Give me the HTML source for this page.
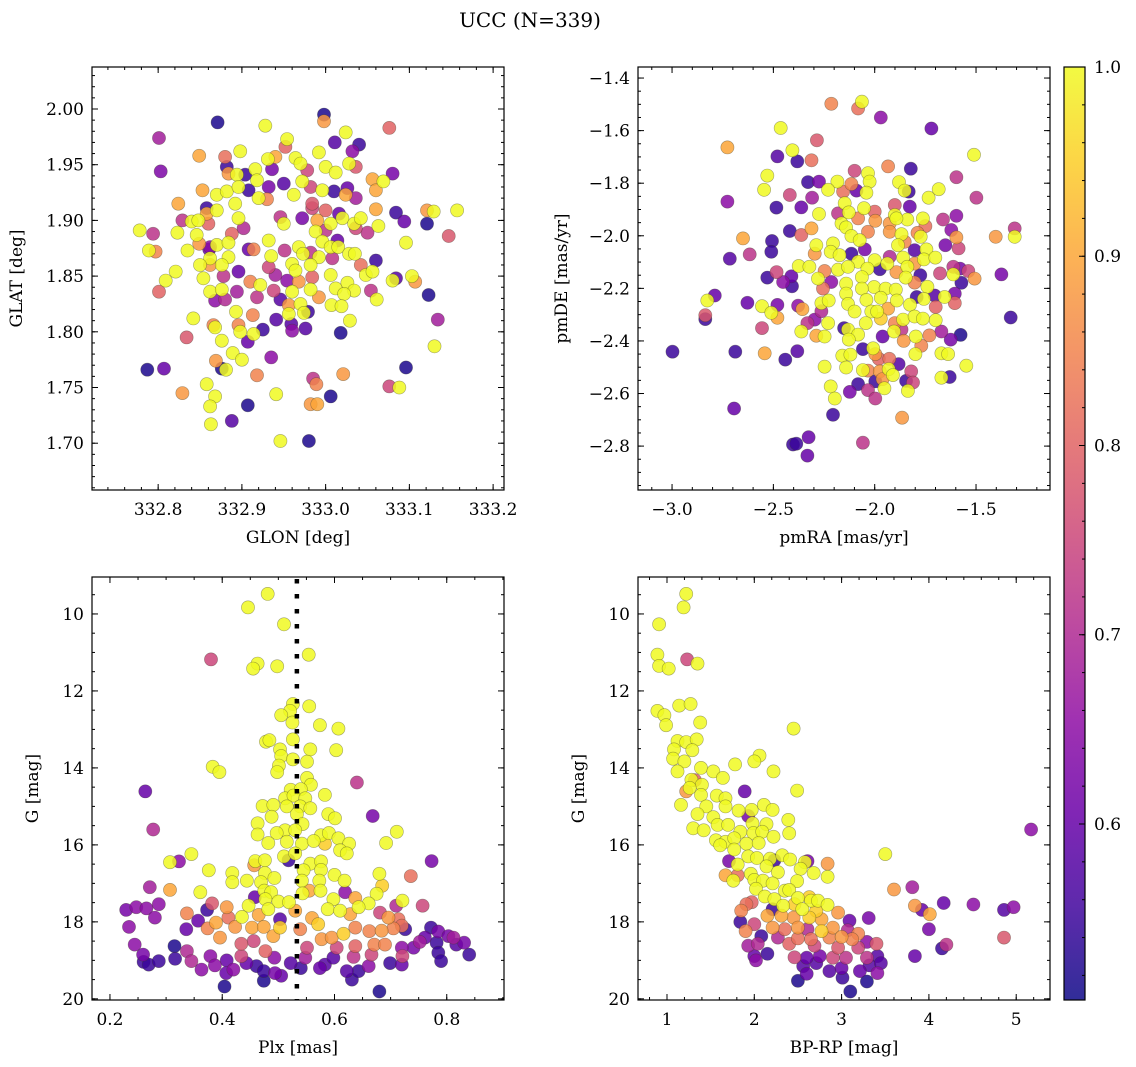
<!DOCTYPE html>
<html>
<head>
<meta charset="utf-8">
<style>
html,body{margin:0;padding:0;background:#fff;}
svg{display:block;font-family:"DejaVu Serif","Liberation Serif",serif;}
</style>
</head>
<body>
<svg id="chart" width="1136" height="1067" viewBox="0 0 1136 1067" xmlns="http://www.w3.org/2000/svg">
<text x="530" y="27" text-anchor="middle" font-size="20">UCC (N=339)</text>
</svg>
<script>
// ---------- Panel 1: GLON vs GLAT ----------
const glon = [332.871,332.801,332.803,332.928,332.998,332.998,333.076,333.024,333.011,333.040,
332.954,332.952,333.032,332.898,332.849,332.880,332.931,332.940,332.992,332.964,
333.028,332.882,332.916,332.936,332.970,333.000,333.012,332.884,332.894,332.904,
332.918,332.978,333.036,333.056,333.069,333.080,332.853,332.870,332.882,332.896,
332.908,332.932,332.950,332.962,332.972,332.982,332.996,333.010,333.024,333.026,
333.060,332.920,332.930,332.824,332.892,332.984,333.036,332.858,332.870,332.984,
333.000,333.016,333.060,333.084,333.121,333.129,333.157,332.858,332.896,332.946,
332.950,332.972,332.990,333.006,333.020,333.034,333.042,333.094,333.121,332.829,
332.840,332.848,332.860,332.778,332.794,332.823,332.846,332.888,332.902,332.988,
333.000,333.036,333.050,333.063,333.147,332.849,332.862,332.870,332.884,332.932,
332.996,333.006,333.014,333.015,333.096,332.789,332.797,332.835,332.861,332.908,
332.914,332.935,332.951,332.968,332.973,332.982,332.992,333.008,333.028,333.035,
333.060,332.862,332.884,332.821,332.809,332.850,332.862,332.876,332.896,332.878,
332.932,332.940,332.960,332.964,332.982,332.954,332.968,332.984,333.006,333.042,
333.048,333.056,333.084,333.080,333.103,333.107,332.801,332.854,332.862,332.876,
332.894,332.910,332.918,332.922,332.938,332.960,332.982,332.992,333.012,333.026,
333.034,333.022,333.054,333.061,333.123,332.868,332.880,332.946,332.956,332.970,
333.007,333.019,332.893,332.913,332.842,332.941,332.956,332.974,332.979,333.134,
332.866,332.868,332.896,332.898,332.914,332.925,332.959,332.976,332.960,333.029,
333.018,332.834,332.876,332.907,333.130,332.889,332.900,332.935,332.869,332.876,
332.881,332.787,332.807,333.096,332.918,333.021,332.985,332.989,333.076,333.088,
332.858,332.829,332.868,332.941,333.006,332.982,332.990,332.862,332.907,332.888,
332.863,332.946,332.980];
const glat = [1.988,1.974,1.944,1.985,1.995,1.989,1.983,1.979,1.970,1.968,
1.973,1.966,1.962,1.962,1.958,1.957,1.955,1.957,1.961,1.956,
1.951,1.948,1.946,1.946,1.951,1.948,1.943,1.942,1.941,1.941,
1.936,1.945,1.948,1.937,1.935,1.942,1.927,1.923,1.926,1.930,
1.927,1.930,1.933,1.923,1.935,1.930,1.927,1.926,1.923,1.929,
1.927,1.920,1.919,1.915,1.915,1.915,1.920,1.911,1.909,1.911,
1.909,1.906,1.910,1.907,1.909,1.908,1.909,1.906,1.902,1.903,
1.897,1.902,1.900,1.897,1.902,1.897,1.902,1.899,1.897,1.900,
1.899,1.900,1.897,1.891,1.888,1.889,1.887,1.888,1.893,1.890,
1.891,1.893,1.889,1.895,1.886,1.879,1.876,1.878,1.880,1.882,
1.881,1.876,1.882,1.876,1.880,1.873,1.872,1.873,1.874,1.874,
1.874,1.868,1.873,1.876,1.870,1.871,1.867,1.866,1.870,1.870,
1.864,1.866,1.867,1.854,1.846,1.860,1.860,1.860,1.854,1.850,
1.858,1.851,1.861,1.855,1.860,1.846,1.845,1.849,1.851,1.860,
1.851,1.854,1.848,1.846,1.850,1.845,1.836,1.848,1.836,1.838,
1.836,1.845,1.831,1.842,1.837,1.836,1.838,1.831,1.839,1.844,
1.837,1.834,1.837,1.829,1.833,1.828,1.829,1.829,1.824,1.825,
1.824,1.823,1.818,1.815,1.812,1.811,1.816,1.817,1.818,1.811,
1.806,1.804,1.806,1.800,1.798,1.802,1.807,1.803,1.801,1.810,
1.799,1.795,1.792,1.791,1.787,1.781,1.775,1.777,1.774,1.767,
1.766,1.766,1.767,1.768,1.761,1.762,1.758,1.753,1.751,1.750,
1.753,1.745,1.742,1.744,1.742,1.735,1.735,1.733,1.734,1.720,
1.717,1.702,1.702];
const memb1 = [0.52,0.68,0.63,1,0.52,0.88,0.8,1,0.58,0.55,
1,0.8,0.65,1,0.9,0.82,1,0.9,1,1,
1,0.55,1,0.62,1,1,1,0.88,1,0.55,
1,0.75,0.78,0.9,1,0.62,0.9,1,1,1,
0.55,0.62,0.58,1,1,0.75,1,0.55,0.9,0.6,
0.9,1,0.85,0.9,1,0.78,0.68,0.55,1,0.75,
0.8,0.6,0.9,0.55,0.88,1,1,0.9,1,0.72,
1,0.62,0.9,1,1,1,1,0.6,0.52,0.72,
1,1,0.8,1,0.72,1,1,0.8,0.7,1,
0.72,0.75,0.72,1,0.78,0.88,0.65,1,1,1,
1,1,0.6,1,1,1,0.85,1,0.6,0.6,
0.85,1,0.72,1,1,0.72,1,0.72,1,1,
0.55,1,1,1,1,1,0.88,1,0.6,0.72,
0.75,0.68,1,1,1,0.65,0.88,0.8,1,0.82,
1,1,0.58,1,1,0.88,0.8,1,1,1,
0.68,0.85,0.72,1,0.75,1,1,0.88,1,1,
1,1,0.72,1,0.52,0.65,0.7,0.58,0.88,1,
1,1,1,0.85,1,0.58,1,1,0.55,0.68,
0.85,1,0.85,1,1,0.55,0.58,0.58,0.65,1,
0.52,0.78,1,0.6,1,1,1,0.65,0.88,0.52,
1,0.52,0.6,0.52,0.85,0.88,0.72,0.85,0.75,1,
1,0.88,1,1,0.52,0.88,0.9,1,0.52,0.58,
1,1,0.52];
const glonTicks = [332.8,332.9,333.0,333.1,333.2];
const glonTickLabels = ["332.8","332.9","333.0","333.1","333.2"];
const glatTicks = [1.70,1.75,1.80,1.85,1.90,1.95,2.00];
const glatTickLabels = ["1.70","1.75","1.80","1.85","1.90","1.95","2.00"];

// ---------- Panel 2: pmRA vs pmDE ----------
const pmra = [-2.214,-2.063,-2.082,-1.970,-1.720,-2.464,-2.727,-2.285,-2.406,-2.480,
-2.382,-2.312,-1.510,-1.934,-1.822,-2.099,-2.033,-1.597,-2.530,-2.329,
-2.275,-2.184,-2.115,-2.025,-1.880,-2.546,-2.230,-2.156,-2.090,-2.041,
-1.852,-1.832,-1.684,-1.734,-1.498,-2.419,-2.309,-2.727,-2.485,-2.362,
-2.148,-2.053,-1.901,-1.827,-2.275,-2.181,-2.128,-2.000,-1.901,-1.839,
-1.762,-1.663,-1.597,-2.082,-1.997,-2.164,-1.926,-1.893,-1.750,-1.622,
-2.419,-2.312,-2.362,-2.650,-2.141,-2.115,-2.033,-1.868,-1.926,-1.789,
-1.773,-1.597,-1.403,-1.309,-1.309,-2.507,-2.288,-2.206,-2.074,-2.049,
-1.885,-1.852,-1.803,-1.745,-1.651,-1.586,-2.510,-2.715,-2.617,-2.296,
-2.217,-2.173,-2.115,-2.082,-2.000,-1.926,-1.860,-1.803,-1.757,-1.701,
-2.375,-2.322,-2.247,-2.181,-2.132,-2.036,-1.975,-1.938,-1.893,-1.839,
-1.775,-1.678,-1.612,-1.579,-1.538,-1.507,-1.375,-2.484,-2.530,-2.452,
-2.411,-2.408,-2.280,-2.214,-2.141,-2.063,-2.003,-1.946,-1.896,-1.847,
-1.803,-1.740,-1.612,-1.572,-2.255,-2.141,-2.063,-2.789,-2.826,-2.628,
-2.480,-2.378,-2.263,-2.227,-2.132,-2.041,-1.970,-1.891,-1.793,-1.757,
-1.704,-1.655,-1.605,-1.605,-1.699,-1.826,-2.099,-2.017,-1.988,-1.934,
-2.556,-2.510,-2.480,-2.357,-2.263,-2.296,-2.332,-2.230,-2.044,-1.970,
-1.901,-1.860,-1.803,-1.762,-1.699,-1.329,-2.836,-2.836,-2.556,-2.362,
-2.288,-2.247,-2.151,-2.132,-2.082,-2.128,-1.961,-1.905,-1.868,-1.857,
-1.797,-1.770,-1.730,-1.671,-1.625,-1.576,-2.998,-2.688,-2.543,-2.441,
-2.382,-2.058,-2.008,-1.997,-1.799,-1.671,-1.638,-2.160,-2.120,-1.980,
-1.928,-1.882,-2.247,-2.141,-2.058,-2.033,-1.975,-1.931,-1.910,-1.820,
-1.548,-1.630,-1.671,-1.845,-1.811,-2.082,-1.997,-1.961,-2.217,-1.952,
-1.836,-2.123,-2.033,-2.197,-1.997,-2.694,-2.206,-1.865,-2.326,-2.403,
-2.387,-2.058,-2.332];
const pmde = [-1.498,-1.490,-1.516,-1.550,-1.592,-1.590,-1.664,-1.637,-1.675,-1.698,
-1.717,-1.713,-1.692,-1.736,-1.745,-1.753,-1.762,-1.777,-1.771,-1.796,
-1.794,-1.794,-1.803,-1.794,-1.796,-1.825,-1.825,-1.832,-1.828,-1.836,
-1.828,-1.832,-1.823,-1.855,-1.855,-1.845,-1.855,-1.870,-1.893,-1.892,
-1.876,-1.895,-1.883,-1.889,-1.917,-1.915,-1.911,-1.908,-1.921,-1.938,
-1.934,-1.938,-1.924,-1.934,-1.943,-1.953,-1.953,-1.934,-1.963,-1.978,
-1.982,-1.972,-1.997,-2.010,-1.968,-2.001,-1.985,-1.994,-1.985,-1.989,
-2.004,-2.006,-2.004,-1.972,-2.004,-2.020,-2.036,-2.029,-2.017,-2.052,
-2.036,-2.023,-2.055,-2.052,-2.036,-2.048,-2.061,-2.087,-2.071,-2.068,
-2.061,-2.074,-2.068,-2.099,-2.093,-2.080,-2.083,-2.106,-2.090,-2.083,
-2.115,-2.118,-2.134,-2.129,-2.118,-2.125,-2.127,-2.106,-2.138,-2.118,
-2.150,-2.143,-2.118,-2.125,-2.134,-2.163,-2.147,-2.138,-2.159,-2.176,
-2.154,-2.192,-2.163,-2.176,-2.182,-2.157,-2.195,-2.201,-2.205,-2.159,
-2.178,-2.194,-2.147,-2.179,-2.201,-2.220,-2.201,-2.227,-2.246,-2.255,
-2.263,-2.266,-2.256,-2.246,-2.259,-2.244,-2.236,-2.246,-2.233,-2.240,
-2.227,-2.233,-2.220,-2.256,-2.271,-2.262,-2.288,-2.288,-2.288,-2.277,
-2.268,-2.293,-2.312,-2.279,-2.287,-2.319,-2.332,-2.332,-2.332,-2.315,
-2.332,-2.319,-2.307,-2.315,-2.321,-2.311,-2.302,-2.317,-2.351,-2.364,
-2.380,-2.383,-2.351,-2.357,-2.376,-2.395,-2.383,-2.364,-2.357,-2.400,
-2.383,-2.418,-2.379,-2.364,-2.395,-2.377,-2.441,-2.441,-2.447,-2.471,
-2.439,-2.431,-2.428,-2.450,-2.450,-2.447,-2.450,-2.456,-2.452,-2.468,
-2.468,-2.488,-2.498,-2.501,-2.511,-2.513,-2.516,-2.507,-2.530,-2.516,
-2.494,-2.537,-2.540,-2.552,-2.558,-2.564,-2.554,-2.545,-2.573,-2.580,
-2.590,-2.594,-2.587,-2.619,-2.619,-2.657,-2.681,-2.692,-2.766,-2.794,
-2.791,-2.787,-2.836];
const memb2 = [0.85,1,0.82,0.65,0.6,1,0.9,0.78,1,0.58,
0.55,0.82,1,0.85,0.55,0.75,1,0.72,1,0.55,
0.62,1,0.85,1,1,1,1,0.82,0.6,1,
1,0.55,1,1,0.72,0.75,0.68,0.65,0.55,0.6,
1,1,0.78,0.6,1,0.72,1,0.8,1,1,
1,0.72,0.65,0.85,0.88,1,0.88,1,0.82,0.65,
0.55,0.9,0.8,0.9,1,1,0.85,1,0.88,0.85,
1,0.88,0.88,0.72,1,0.55,1,1,1,0.62,
1,0.85,0.58,1,0.62,0.75,0.55,0.58,0.72,0.88,
1,1,0.55,1,1,0.7,1,0.88,1,1,
1,1,0.85,1,1,1,0.55,1,0.88,1,
0.55,0.75,0.72,0.62,0.75,0.88,0.62,0.75,0.55,0.65,
0.6,0.55,1,0.65,1,1,1,1,1,1,
0.85,1,1,0.55,0.82,1,1,0.6,1,0.6,
0.62,0.65,1,1,1,1,1,1,0.55,1,
0.58,1,0.62,0.8,0.8,1,1,1,1,0.9,
1,1,0.9,0.9,0.7,0.65,0.72,1,1,0.95,
0.85,1,1,1,1,0.55,0.78,0.55,0.75,1,
0.9,1,0.55,1,1,1,0.6,1,0.72,0.88,
1,0.85,0.85,0.68,0.62,0.52,0.55,0.55,0.9,0.55,
0.58,0.55,1,0.88,1,1,1,1,1,0.8,
0.82,0.58,1,1,1,0.85,0.88,1,1,0.75,
1,0.55,1,0.55,0.75,0.55,0.55,0.88,1,1,
1,0.62,0.72,1,0.72,0.6,0.55,0.88,0.6,0.55,
0.55,0.72,0.6];
const pmraTicks = [-3.0,-2.5,-2.0,-1.5];
const pmraTickLabels = ["\u22123.0","\u22122.5","\u22122.0","\u22121.5"];
const pmdeTicks = [-2.8,-2.6,-2.4,-2.2,-2.0,-1.8,-1.6,-1.4];
const pmdeTickLabels = ["\u22122.8","\u22122.6","\u22122.4","\u22122.2","\u22122.0","\u22121.8","\u22121.6","\u22121.4"];

// ---------- Panel 3: Plx vs G ----------
const plx = [0.481,0.446,0.510,0.380,0.463,0.455,0.498,0.554,0.526,0.521,
0.505,0.525,0.555,0.574,0.607,0.478,0.484,0.526,0.503,0.557,
0.603,0.505,0.526,0.551,0.501,0.498,0.383,0.395,0.263,0.551,
0.558,0.522,0.540,0.640,0.512,0.527,0.548,0.583,0.472,0.491,
0.515,0.539,0.557,0.589,0.601,0.668,0.488,0.463,0.533,0.543,
0.512,0.497,0.530,0.576,0.590,0.463,0.277,0.711,0.482,0.515,
0.542,0.563,0.583,0.607,0.626,0.692,0.610,0.622,0.510,0.518,
0.530,0.345,0.307,0.323,0.459,0.476,0.557,0.576,0.773,0.376,
0.418,0.457,0.476,0.545,0.576,0.600,0.680,0.736,0.418,0.444,
0.469,0.493,0.542,0.573,0.618,0.685,0.271,0.307,0.361,0.475,
0.487,0.543,0.555,0.575,0.619,0.675,0.477,0.458,0.500,0.519,
0.598,0.637,0.661,0.721,0.710,0.757,0.287,0.229,0.247,0.265,
0.280,0.234,0.382,0.373,0.408,0.447,0.482,0.337,0.357,0.411,
0.435,0.465,0.503,0.530,0.560,0.588,0.610,0.628,0.643,0.681,
0.696,0.714,0.336,0.374,0.389,0.396,0.423,0.453,0.474,0.491,
0.503,0.539,0.571,0.577,0.595,0.616,0.637,0.662,0.684,0.705,
0.720,0.726,0.772,0.785,0.803,0.812,0.244,0.259,0.260,0.269,
0.287,0.315,0.316,0.337,0.345,0.363,0.379,0.387,0.408,0.407,
0.420,0.404,0.434,0.434,0.443,0.456,0.461,0.477,0.474,0.474,
0.493,0.494,0.505,0.522,0.540,0.548,0.551,0.574,0.583,0.598,
0.604,0.622,0.631,0.634,0.637,0.643,0.661,0.666,0.671,0.680,
0.690,0.699,0.720,0.721,0.720,0.741,0.752,0.761,0.782,0.785,
0.790,0.817,0.831,0.840];
const gmag = [9.48,9.83,10.27,11.18,11.29,11.42,11.36,11.06,12.34,12.52,
12.63,12.82,12.40,12.89,12.98,13.32,13.28,13.26,13.52,13.52,
13.54,13.69,13.78,13.84,13.94,14.11,13.97,14.11,14.61,14.26,
14.44,14.57,14.55,14.38,14.79,14.72,14.79,14.70,14.99,14.96,
15.00,15.00,15.05,15.20,15.31,15.25,15.27,15.44,15.20,15.46,
15.62,15.69,15.62,15.75,15.69,15.73,15.60,15.66,15.95,15.92,
15.97,15.90,15.97,15.83,15.97,15.95,16.14,16.22,16.30,16.40,
16.22,16.24,16.45,16.43,16.42,16.40,16.49,16.43,16.42,16.66,
16.73,16.53,16.73,16.66,16.65,16.78,16.75,16.81,16.97,16.93,
16.97,16.86,16.93,16.93,16.93,17.06,17.10,17.17,17.23,17.19,
17.23,17.26,17.19,17.19,17.23,17.27,17.41,17.36,17.47,17.49,
17.41,17.38,17.52,17.45,17.58,17.58,17.54,17.69,17.62,17.65,
17.89,18.13,17.52,17.69,17.62,17.58,17.67,17.78,17.97,17.89,
17.87,17.82,17.93,17.71,17.90,17.67,17.71,17.80,17.62,17.76,
17.89,17.93,18.19,18.17,18.02,18.41,18.13,18.15,18.13,18.37,
18.15,18.19,18.06,18.45,18.41,18.31,18.15,18.24,18.23,18.17,
18.10,18.19,18.15,18.25,18.37,18.41,18.59,18.85,19.04,19.11,
19.02,18.63,18.96,18.76,19.02,19.24,18.89,19.13,19.00,19.33,
19.24,19.68,18.57,18.89,19.07,18.50,19.15,18.76,19.28,19.53,
18.93,19.33,19.40,19.07,19.20,18.93,18.67,19.20,19.11,18.93,
18.67,19.28,19.50,18.91,18.63,19.28,19.15,18.85,18.59,19.81,
18.59,19.07,18.67,18.89,19.11,18.67,18.52,18.41,18.54,18.80,
19.02,18.59,18.54,18.85];
const memb3 = [1,1,1,0.75,1,1,1,1,1,1,
1,1,1,1,1,1,1,1,1,1,
1,1,1,1,1,1,1,1,0.6,1,
1,1,1,0.72,1,1,1,1,1,1,
1,1,1,1,1,0.62,1,1,1,1,
1,1,1,1,1,1,0.7,1,1,1,
1,1,0.95,1,1,1,1,1,1,0.55,
1,1,1,0.65,1,1,1,1,0.62,1,
1,0.88,1,1,1,1,1,0.82,1,1,
1,1,1,1,1,0.95,0.68,0.9,1,1,
1,1,0.9,1,0.65,1,1,0.6,1,1,
1,0.9,1,1,0.7,0.75,0.65,0.62,0.65,0.65,
0.65,0.65,0.78,0.55,0.88,1,1,0.85,0.6,0.82,
1,0.9,0.58,0.9,0.9,1,1,0.9,1,0.75,
0.88,0.82,0.6,0.85,0.9,0.88,0.88,0.9,0.9,0.9,
0.95,0.85,0.95,0.88,0.88,0.95,0.85,0.85,0.88,0.85,
0.82,0.55,0.55,0.62,0.62,0.68,0.65,0.62,0.55,0.55,
0.55,0.52,0.55,0.7,0.7,0.65,0.65,0.65,0.6,0.6,
0.65,0.52,0.78,0.75,0.6,0.75,0.55,0.8,0.55,0.52,
0.65,0.62,0.6,0.58,0.55,0.68,0.75,0.6,0.58,0.58,
0.75,0.58,0.55,0.72,0.8,0.55,0.65,0.75,0.85,0.52,
0.85,0.55,0.65,0.75,0.6,0.62,0.68,0.6,0.55,0.55,
0.55,0.58,0.62,0.55];
const plxMedian = 0.533;
const plxTicks = [0.2,0.4,0.6,0.8];
const plxTickLabels = ["0.2","0.4","0.6","0.8"];
const gTicks = [10,12,14,16,18,20];
const gTickLabels = ["10","12","14","16","18","20"];

// ---------- Panel 4: BP-RP vs G ----------
const bprp = [1.22,1.19,0.91,0.89,0.91,1.02,1.23,1.35,1.14,1.27,
0.89,0.97,0.99,1.38,2.45,1.12,1.22,1.34,1.08,1.29,
1.07,1.20,2.06,2.00,1.78,1.12,1.39,1.53,1.64,2.22,
1.28,1.32,1.40,1.26,1.22,2.49,1.89,1.39,1.57,1.67,
1.16,1.45,1.67,1.82,1.97,2.11,2.21,1.93,1.35,1.53,
2.39,1.58,1.70,1.98,2.14,1.30,1.42,1.84,1.99,2.09,
2.40,1.56,1.67,1.77,2.22,1.61,1.91,2.05,1.77,3.50,
1.71,1.93,2.03,2.18,2.32,2.41,2.23,2.61,2.58,2.84,
1.81,2.14,1.96,2.27,2.53,2.68,1.67,1.81,1.76,2.84,
2.00,2.10,2.21,2.49,2.02,2.35,2.40,2.12,2.23,2.50,
2.63,2.65,2.73,3.60,3.81,1.91,1.97,2.33,2.46,2.84,
2.55,1.85,2.21,2.96,2.71,3.84,3.92,4.01,4.17,4.51,
4.86,4.97,5.17,2.15,2.31,2.45,2.63,2.77,1.84,2.00,
3.09,3.31,2.21,2.35,2.50,2.61,2.77,2.90,3.07,3.19,
1.90,2.08,4.00,4.86,2.27,2.50,2.65,2.86,3.00,3.12,
3.29,1.93,2.04,2.40,2.69,2.96,3.19,3.40,4.15,4.20,
2.15,2.00,2.02,2.46,2.60,2.75,2.90,3.05,3.29,3.41,
3.84,2.56,2.71,2.86,3.00,3.21,3.32,3.41,3.45,2.60,
3.01,2.50,3.29,3.10];
const gmag2 = [9.48,9.83,10.27,11.06,11.35,11.42,11.18,11.29,12.38,12.34,
12.52,12.63,12.89,12.82,12.98,13.30,13.33,13.26,13.52,13.54,
13.76,13.83,13.68,13.83,13.91,14.09,14.00,14.09,14.26,14.09,
14.31,14.32,14.44,14.52,14.61,14.59,14.61,14.70,14.72,14.79,
14.96,15.00,15.00,15.11,15.09,14.96,15.09,15.25,15.20,15.28,
15.35,15.48,15.48,15.44,15.46,15.57,15.62,15.66,15.69,15.66,
15.70,15.88,15.92,15.83,15.79,16.01,15.97,15.95,16.12,16.24,
16.42,16.30,16.34,16.36,16.27,16.38,16.40,16.42,16.45,16.49,
16.51,16.56,16.75,16.71,16.62,16.73,16.79,16.79,16.93,16.83,
16.91,16.93,17.00,16.94,17.14,17.19,17.17,17.34,17.41,17.38,
17.36,17.45,17.45,17.16,17.10,17.54,17.49,17.58,17.54,17.56,
17.67,17.71,17.67,17.76,17.71,17.58,17.69,17.80,17.51,17.55,
17.69,17.62,15.60,17.84,17.84,17.89,17.89,17.93,18.00,18.06,
17.97,17.90,18.15,18.19,18.15,18.19,18.24,18.15,18.22,18.31,
18.24,18.37,18.19,18.41,18.41,18.43,18.45,18.41,18.39,18.45,
18.52,18.62,18.57,18.57,18.62,18.67,18.67,18.57,18.69,18.59,
18.83,18.89,19.00,18.92,18.93,18.89,18.93,18.93,18.93,18.89,
18.89,19.15,19.07,19.28,19.20,19.28,19.13,19.33,19.07,19.35,
19.45,19.53,19.55,19.81];
const memb4 = [1,1,1,1,1,1,0.75,1,1,1,
1,1,1,1,1,1,1,1,1,1,
1,1,1,1,1,1,1,1,1,1,
1,0.8,1,1,0.88,1,0.6,1,1,1,
1,1,1,1,1,1,1,0.62,1,1,
1,1,1,1,1,1,1,1,1,1,
1,1,1,1,1,1,1,1,1,1,
0.62,1,1,1,1,1,0.55,0.62,1,0.88,
1,1,1,1,1,1,0.9,0.82,1,1,
1,1,1,1,1,1,1,1,1,1,
0.95,1,1,0.88,0.68,0.82,0.8,1,0.95,1,
1,0.85,0.55,0.88,0.95,0.88,0.6,0.9,0.6,0.65,
0.58,0.65,0.65,0.9,0.9,0.88,0.95,0.9,0.55,0.75,
0.6,0.62,0.88,0.82,0.88,0.7,0.95,0.88,0.7,0.85,
0.85,0.55,0.62,0.78,0.7,0.82,0.82,0.85,0.88,0.85,
0.65,0.68,0.7,0.8,0.75,0.78,0.75,0.78,0.55,0.72,
0.55,0.6,0.65,0.75,0.6,0.62,0.75,0.72,0.72,0.58,
0.6,0.58,0.58,0.58,0.6,0.6,0.58,0.65,0.58,0.6,
0.55,0.52,0.52,0.52];
const bprpTicks = [1,2,3,4,5];
const bprpTickLabels = ["1","2","3","4","5"];

// ---------- Colorbar ----------
const cbarTicks = [0.6,0.7,0.8,0.9,1.0];
const cbarTickLabels = ["0.6","0.7","0.8","0.9","1.0"];
const cbarMin = 0.507, cbarMax = 1.0;

// ---------- rendering ----------
const NS = 'http://www.w3.org/2000/svg';
const svg = document.getElementById('chart');
function mk(tag, attrs, parent){
  const e = document.createElementNS(NS, tag);
  for (const k in attrs) e.setAttribute(k, attrs[k]);
  (parent || svg).appendChild(e);
  return e;
}
const plasmaStops = ['#0d0887','#41049d','#6a00a8','#8f0da4','#b12a90','#cc4778','#e16462','#f2844b','#fca636','#fcce25','#f0f921'];
function hex2rgb(h){return [parseInt(h.substr(1,2),16),parseInt(h.substr(3,2),16),parseInt(h.substr(5,2),16)];}
function plasma(t){
  t = Math.max(0, Math.min(1, t));
  const f = t * 10, i = Math.min(9, Math.floor(f)), r = f - i;
  const a = hex2rgb(plasmaStops[i]), b = hex2rgb(plasmaStops[i+1]);
  return 'rgb(' + a.map((v,k)=>Math.round(v + (b[k]-v)*r)).join(',') + ')';
}
function colorOf(m){ return plasma((m - cbarMin) / (cbarMax - cbarMin)); }

const FS = 17;
function drawPanel(p){
  const g = mk('g', {});
  
  
  const sx = v => p.x0 + (v - p.xd[0]) / (p.xd[1] - p.xd[0]) * (p.x1 - p.x0);
  const sy = v => p.y1 - (v - p.yd[0]) / (p.yd[1] - p.yd[0]) * (p.y1 - p.y0);
  const clipId = 'clip-' + p.name;
  const cp = mk('clipPath', {id: clipId}, g);
  mk('rect', {x: p.x0, y: p.y0, width: p.x1 - p.x0, height: p.y1 - p.y0}, cp);
  const pts = mk('g', {'clip-path': 'url(#' + clipId + ')'}, g);
  
  
  const n = Math.min(p.xs.length, p.ys.length, p.cs.length);
  const idx = [];
  for (let i = 0; i < n; i++) idx.push(i);
  idx.sort((a, b) => p.cs[a] - p.cs[b]);
  for (const i of idx){
    const c = mk('circle', {cx: sx(p.xs[i]).toFixed(1), cy: sy(p.ys[i]).toFixed(1), r: 6.6,
      fill: colorOf(p.cs[i]), 'fill-opacity': 0.85, stroke: 'rgba(60,60,40,0.45)', 'stroke-width': 0.6}, pts);
    
    
  }
  if (p.vline !== undefined){
    const l = mk('line', {x1: sx(p.vline), x2: sx(p.vline), y1: p.y0 + 2, y2: p.y1, stroke: '#000', 'stroke-width': 4.5, 'stroke-dasharray': '4.5 10.5'}, pts);
    
    
  }
  const fr = mk('rect', {x: p.x0, y: p.y0, width: p.x1 - p.x0, height: p.y1 - p.y0, fill: 'none', stroke: '#000', 'stroke-width': 1.2}, g);
  
  
  const tk = mk('g', {stroke: '#000', 'stroke-width': 1}, g);
  
  
  const lo = Math.min(p.xd[0], p.xd[1]), hi = Math.max(p.xd[0], p.xd[1]);
  for (let k = Math.ceil(lo / p.xm - 1e-6); k <= Math.floor(hi / p.xm + 1e-6); k++){
    const x = sx(k * p.xm);
    mk('line', {x1: x, x2: x, y1: p.y1, y2: p.y1 - 3}, tk);
    mk('line', {x1: x, x2: x, y1: p.y0, y2: p.y0 + 3}, tk);
  }
  const ylo = Math.min(p.yd[0], p.yd[1]), yhi = Math.max(p.yd[0], p.yd[1]);
  for (let k = Math.ceil(ylo / p.ym - 1e-6); k <= Math.floor(yhi / p.ym + 1e-6); k++){
    const y = sy(k * p.ym);
    mk('line', {x1: p.x0, x2: p.x0 + 3, y1: y, y2: y}, tk);
    mk('line', {x1: p.x1, x2: p.x1 - 3, y1: y, y2: y}, tk);
  }
  p.xt.forEach((v, i) => {
    const x = sx(v);
    mk('line', {x1: x, x2: x, y1: p.y1, y2: p.y1 - 6}, tk);
    mk('line', {x1: x, x2: x, y1: p.y0, y2: p.y0 + 6}, tk);
    const t = mk('text', {x: x, y: p.y1 + 25, 'text-anchor': 'middle', 'font-size': FS}, g);
    t.textContent = p.xl[i];
    
    
  });
  p.yt.forEach((v, i) => {
    const y = sy(v);
    mk('line', {x1: p.x0, x2: p.x0 + 6, y1: y, y2: y}, tk);
    mk('line', {x1: p.x1, x2: p.x1 - 6, y1: y, y2: y}, tk);
    const t = mk('text', {x: p.x0 - 8, y: y + 6, 'text-anchor': 'end', 'font-size': FS}, g);
    t.textContent = p.yl[i];
    
    
  });
  const xt = mk('text', {x: (p.x0 + p.x1) / 2, y: p.y1 + 53, 'text-anchor': 'middle', 'font-size': FS}, g);
  xt.textContent = p.xlabel;
  
  
  const cy = (p.y0 + p.y1) / 2;
  const yt = mk('text', {x: p.ylabX, y: cy, 'text-anchor': 'middle', 'font-size': FS, transform: 'rotate(-90 ' + p.ylabX + ' ' + cy + ')'}, g);
  yt.textContent = p.ylabel;
  
  
}

drawPanel({name: 'glon-glat-panel', x0: 92, x1: 504, y0: 67, y1: 490, xd: [332.721, 333.213], yd: [1.658, 2.0377],
  xs: glon, ys: glat, cs: memb1, xt: glonTicks, xl: glonTickLabels, xm: 0.02, yt: glatTicks, yl: glatTickLabels, ym: 0.01,
  xlabel: 'GLON [deg]', ylabel: 'GLAT [deg]', ylabX: 22});
drawPanel({name: 'pm-panel', x0: 638, x1: 1050, y0: 67, y1: 490, xd: [-3.168, -1.135], yd: [-2.967, -1.358],
  xs: pmra, ys: pmde, cs: memb2, xt: pmraTicks, xl: pmraTickLabels, xm: 0.1, yt: pmdeTicks, yl: pmdeTickLabels, ym: 0.05,
  xlabel: 'pmRA [mas/yr]', ylabel: 'pmDE [mas/yr]', ylabX: 567});
drawPanel({name: 'plx-g-panel', x0: 92, x1: 504, y0: 577, y1: 1000, xd: [0.168, 0.902], yd: [20.03, 9.04],
  xs: plx, ys: gmag, cs: memb3, xt: plxTicks, xl: plxTickLabels, xm: 0.05, yt: gTicks, yl: gTickLabels, ym: 0.5,
  xlabel: 'Plx [mas]', ylabel: 'G [mag]', ylabX: 38, vline: plxMedian});
drawPanel({name: 'cmd-panel', x0: 638, x1: 1050, y0: 577, y1: 1000, xd: [0.668, 5.387], yd: [20.03, 9.04],
  xs: bprp, ys: gmag2, cs: memb4, xt: bprpTicks, xl: bprpTickLabels, xm: 0.2, yt: gTicks, yl: gTickLabels, ym: 0.5,
  xlabel: 'BP-RP [mag]', ylabel: 'G [mag]', ylabX: 584});

(function(){
  const cx0 = 1064, cx1 = 1085, cy0 = 67, cy1 = 1000;
  const defs = mk('defs', {});
  const lg = mk('linearGradient', {id: 'cbgrad', x1: 0, y1: 1, x2: 0, y2: 0}, defs);
  for (let i = 0; i <= 20; i++){
    const m = cbarMin + (cbarMax - cbarMin) * i / 20;
    mk('stop', {offset: (i / 20 * 100) + '%', 'stop-color': colorOf(m), 'stop-opacity': 0.85}, lg);
  }
  const g = mk('g', {});
  
  
  const r = mk('rect', {x: cx0, y: cy0, width: cx1 - cx0, height: cy1 - cy0, fill: 'url(#cbgrad)', stroke: '#000', 'stroke-width': 1.2}, g);
  
  
  const sy = v => cy1 - (v - cbarMin) / (cbarMax - cbarMin) * (cy1 - cy0);
  for (let k = Math.ceil(cbarMin / 0.02 - 1e-6); k <= Math.floor(cbarMax / 0.02 + 1e-6); k++){
    const y = sy(k * 0.02);
    mk('line', {x1: cx1, x2: cx1 - 3, y1: y, y2: y, stroke: '#000', 'stroke-width': 1}, g);
  }
  cbarTicks.forEach((v, i) => {
    const y = sy(v);
    mk('line', {x1: cx1, x2: cx1 - 6, y1: y, y2: y, stroke: '#000', 'stroke-width': 1}, g);
    const t = mk('text', {x: cx1 + 9, y: y + 6, 'font-size': FS}, g);
    t.textContent = cbarTickLabels[i];
    
    
  });
})();
</script>
</body>
</html>
